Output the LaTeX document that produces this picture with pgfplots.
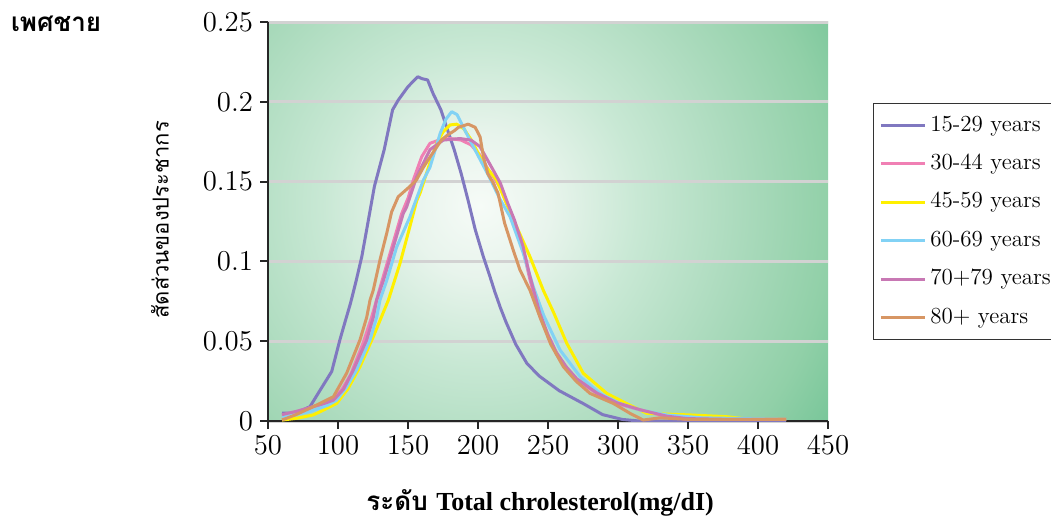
\documentclass[border=0pt]{standalone}
\usepackage{fontspec}
\usepackage{pgfplots}
\pgfplotsset{compat=1.18}
\newfontfamily\thaifont[Script=Thai]{Loma}
\newfontfamily\libserif{Liberation Serif}
\definecolor{c1}{RGB}{128,120,192}
\definecolor{c2}{RGB}{240,128,180}
\definecolor{c3}{RGB}{255,240,0}
\definecolor{c4}{RGB}{130,210,245}
\definecolor{c5}{RGB}{200,120,180}
\definecolor{c6}{RGB}{215,150,100}
\definecolor{bg0}{RGB}{246,251,247}
\definecolor{bg1}{RGB}{232,244,236}
\definecolor{bg2}{RGB}{200,232,212}
\definecolor{bg3}{RGB}{170,218,188}
\definecolor{bg4}{RGB}{145,208,168}
\definecolor{bg5}{RGB}{108,193,146}
\definecolor{bg6}{RGB}{92,186,132}
\pgfdeclareradialshading{bgshade}{\pgfpointorigin}{color(0bp)=(bg0); color(4bp)=(bg1); color(9bp)=(bg2); color(15bp)=(bg3); color(20bp)=(bg4); color(25bp)=(bg5); color(31bp)=(bg6); color(50bp)=(bg6)}
\begin{document}
\begin{tikzpicture}
\path[use as bounding box] (0,0) rectangle (525.5pt,260.5pt);
\begin{scope}
\clip (134pt,50pt) rectangle (414pt,249.5pt);
\shade[shading=bgshade] (240pt,157.7pt) circle (220pt);
\end{scope}
\begin{axis}[
  at={(134pt,50pt)}, anchor=south west,
  width=280pt, height=199.5pt, scale only axis,
  xmin=50, xmax=450, ymin=0, ymax=0.25,
  xtick={50,100,150,200,250,300,350,400,450},
  ytick={0,0.05,0.1,0.15,0.2,0.25},
  scaled y ticks=false,
  yticklabel style={/pgf/number format/fixed, /pgf/number format/precision=2},
  axis x line*=bottom, axis y line*=left,
  axis line style={line width=1pt, black!85, -},
  tick style={line width=1pt, black!85},
  tick align=outside, major tick length=4pt,
  ymajorgrids, grid style={line width=1.5pt, color=gray!35},
  tick label style={font=\fontsize{13.5}{15}\selectfont},
  xlabel={{\thaifont\bfseries ระดับ} {\libserif\bfseries Total chrolesterol(mg/dI)}},
  ylabel={\thaifont สัดส่วนของประชากร},
  every axis x label/.style={at={(axis description cs:0.486,-0.205)}, anchor=center, font=\fontsize{13}{15}\selectfont},
  every axis y label/.style={at={(axis description cs:-0.193,0.504)}, rotate=90, anchor=center, font=\fontsize{11}{13}\selectfont},
  legend style={at={(axis description cs:1.080,0.797)}, anchor=north west, draw=black!80, line width=0.6pt, fill=white,
    font=\fontsize{11.5}{14}\selectfont, row sep=8.7pt, inner ysep=5.7pt, inner xsep=3pt,
    nodes={text height=8pt, text depth=2.5pt, inner ysep=0pt, inner xsep=2pt}},
  legend cell align=left,
  legend image code/.code={\draw[#1, line width=1.5pt] (0pt,0pt) -- (22pt,0pt);},
  every axis plot/.append style={line width=1.5pt, line join=round},
]
% 15-29
\addplot[c1] coordinates {(60,0.005)(70,0.005)(80,0.009)(87,0.019)(95.5,0.031)(101.4,0.051)(105,0.062)(109,0.074)(113,0.088)(117,0.103)(120.5,0.12)(126,0.147)(133,0.170)(139,0.195)(143,0.201)(150,0.2095)(157,0.2157)(160,0.2145)(164,0.2137)(168,0.205)(173.5,0.195)(178,0.183)(183,0.17)(188,0.155)(193,0.138)(198,0.12)(203.8,0.103)(208,0.092)(212,0.081)(216,0.071)(220,0.062)(227,0.048)(235,0.036)(244,0.028)(258,0.019)(275,0.011)(289,0.004)(303,0.001)(315,0)(420,0)};
% 30-44
\addplot[c2] coordinates {(60,0.003)(70,0.005)(82,0.009)(90,0.011)(97,0.014)(103,0.02)(109,0.029)(118,0.049)(124,0.065)(131.5,0.088)(138.5,0.109)(145.5,0.13)(150.2,0.14)(153.8,0.151)(159.8,0.1656)(165.7,0.174)(172,0.176)(180,0.177)(188,0.176)(195,0.173)(201,0.167)(207,0.158)(211,0.153)(216,0.146)(221,0.135)(226,0.124)(232,0.108)(237,0.089)(244,0.066)(250,0.053)(256,0.042)(263,0.033)(270.5,0.0257)(284.8,0.0173)(299,0.011)(315.7,0.007)(334.8,0.0027)(350,0.001)(420,0.001)};
% 45-59
\addplot[c3] coordinates {(60,0.0006)(70.5,0.0017)(82.4,0.0038)(90,0.007)(99,0.011)(107,0.02)(115.7,0.034)(125.2,0.0528)(130,0.063)(136,0.0758)(144.3,0.0988)(151.4,0.122)(156.2,0.138)(158.6,0.1427)(165,0.160)(170.5,0.174)(175,0.181)(180,0.1855)(184.8,0.186)(190,0.183)(196,0.175)(203.6,0.1615)(213.3,0.151)(220.5,0.136)(227.6,0.1217)(237.1,0.103)(246.6,0.082)(254,0.068)(263.4,0.0487)(275.2,0.0299)(292,0.0173)(306,0.011)(320.5,0.0048)(351.4,0.0038)(377.6,0.0027)(395,0.001)(420,0.001)};
% 60-69
\addplot[c4] coordinates {(60,0.003)(70,0.004)(80,0.006)(87,0.008)(93,0.01)(99,0.013)(106,0.021)(113.3,0.032)(122.9,0.0508)(127.6,0.065)(130,0.0758)(134.8,0.088)(141.9,0.109)(151.4,0.128)(153.8,0.134)(161,0.151)(165.7,0.159)(172.9,0.180)(177,0.189)(181.2,0.1938)(185,0.192)(191.9,0.180)(201.4,0.164)(208,0.153)(215.7,0.139)(222.9,0.128)(232.4,0.105)(239.5,0.0841)(247,0.066)(258.6,0.0445)(272.9,0.0278)(287.1,0.0173)(301.4,0.011)(315.7,0.0069)(334.8,0.0038)(360,0.002)(420,0.001)};
% 70-79
\addplot[c5] coordinates {(60,0.004)(70,0.006)(82.4,0.009)(90,0.011)(96.7,0.013)(104,0.02)(111,0.032)(120.5,0.0508)(125.2,0.065)(127.6,0.0758)(132.4,0.088)(139.5,0.109)(146.6,0.130)(149,0.134)(156.2,0.153)(165.7,0.170)(175.2,0.176)(187,0.177)(195,0.176)(201.4,0.172)(211,0.157)(216,0.149)(221,0.137)(226,0.126)(232,0.11)(237,0.091)(244,0.068)(250,0.054)(256,0.043)(263,0.034)(270.5,0.0265)(285,0.0175)(299,0.0115)(316,0.007)(335,0.003)(350,0.0015)(380,0.001)(420,0.001)};
% 80+
\addplot[c6] coordinates {(60,0.0006)(70,0.004)(80,0.008)(87,0.011)(96.7,0.0152)(106.2,0.03)(115.7,0.0508)(120.5,0.065)(122.9,0.0758)(125.2,0.082)(130,0.101)(134.8,0.1176)(138.3,0.131)(143,0.1405)(151.4,0.147)(156,0.151)(161,0.159)(164.3,0.1635)(173.8,0.176)(178,0.179)(183.3,0.182)(186,0.184)(193,0.186)(198,0.184)(201.5,0.178)(204,0.165)(207,0.155)(211,0.149)(214.3,0.1427)(216.5,0.134)(219,0.124)(225.2,0.107)(230,0.0946)(237.1,0.082)(244.3,0.065)(252,0.048)(261,0.034)(270,0.025)(280,0.0173)(296.7,0.011)(308.6,0.0048)(318,0.0006)(330,0.002)(351,0.001)(420,0.001)};
\legend{15-29 years, 30-44 years, 45-59 years, 60-69 years, 70+79 years, 80+ years}
\end{axis}
\node[anchor=west, font=\fontsize{13}{15}\selectfont] at (2pt,248.5pt) {\thaifont\bfseries เพศชาย};
\end{tikzpicture}
\end{document}
